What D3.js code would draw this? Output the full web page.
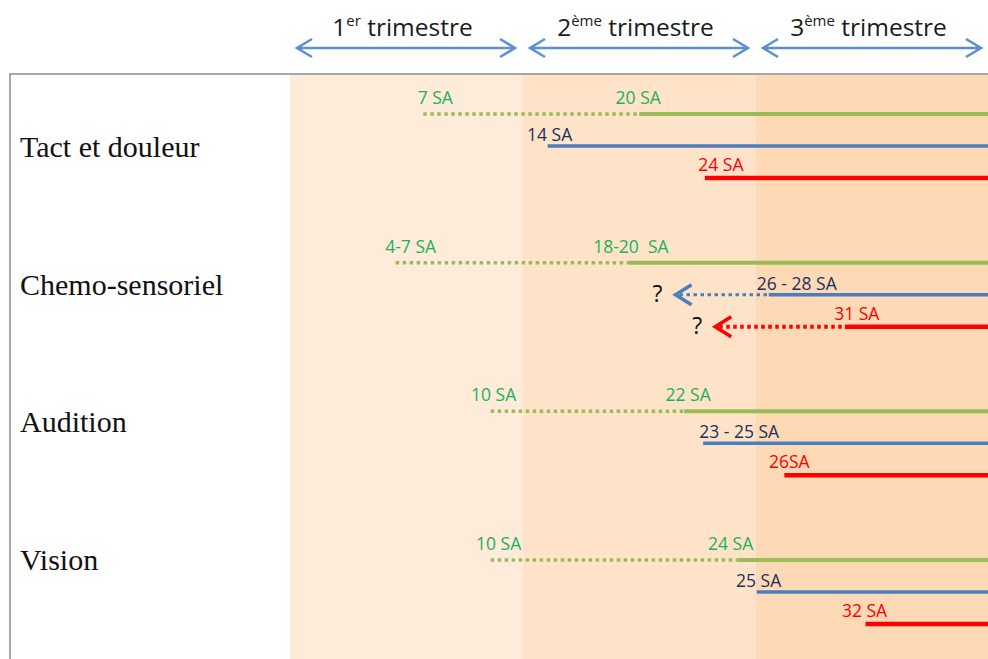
<!DOCTYPE html>
<html>
<head>
<meta charset="utf-8">
<script src="https://cdn.jsdelivr.net/npm/d3@7"></script>
<style>
  body { margin: 0; background: #fff; }
  svg { display: block; }
</style>
</head>
<body>
<div id="chart"></div>
<script>
"use strict";

// == data ==
var senses = ["Tact et douleur", "Chemo-sensoriel", "Audition", "Vision"];
var trimNum = ["1", "2", "3"];
var trimSup = ["er", "ème", "ème"];

// start of each line in SA, as drawn
var greenDotted = [6.5, 4.9, 10.4, 10.4];
var greenSolid  = [19.0, 18.4, 21.6, 24.7];
var blueSolid   = [13.7, 26.5, 22.7, 25.8];
var redSolid    = [22.8, 30.9, 27.4, 32.1];
// uncertain earlier onset (dotted arrow), only for chemo-sensoriel
var blueDotted  = [null, 21.1, null, null];
var redDotted   = [null, 23.4, null, null];

var greenDottedLbl = ["7 SA", "4-7 SA", "10 SA", "10 SA"];
var greenSolidLbl  = ["20 SA", "18-20  SA", "22 SA", "24 SA"];
var blueLbl        = ["14 SA", "26 - 28 SA", "23 - 25 SA", "25 SA"];
var redLbl         = ["24 SA", "31 SA", "26SA", "32 SA"];

// == layout ==
var W = 988, H = 659;
var GREEN = "#9bbb59", GREEN_TXT = "#1db158",
    BLUE = "#4a7ebf", BLUE_TXT = "#1f2f5e",
    RED = "#ff0000", ARROW = "#5b8fd0";
var sans = "'Open Sans', sans-serif";

var svg = d3.select("#chart").append("svg")
  .attr("width", W)
  .attr("height", H);

var x = d3.scaleLinear().domain([0, 40]).range([311, 1002]);
var tri = d3.scaleBand().domain(trimNum).range([290, 989]);
var rowY = d3.scalePoint().domain(senses).range([146, 592]);
var labelY = d3.scalePoint().domain(senses).range([157, 570]);

// == trimester shading ==
var shades = ["#feebd9", "#fee3c9", "#fdd9b6"];
svg.selectAll("rect.tri")
  .data(trimNum)
  .enter().append("rect")
  .attr("class", "tri")
  .attr("x", function (d) { return tri(d); })
  .attr("y", 75)
  .attr("width", tri.bandwidth())
  .attr("height", H - 75)
  .attr("fill", function (d, i) { return shades[i]; });

// frame
svg.append("path")
  .attr("d", "M10," + H + "V74H" + W)
  .attr("fill", "none")
  .attr("stroke", "#8a8a8a")
  .attr("stroke-width", 1.5);

// == header: trimester arrows ==
var head = svg.selectAll("g.head")
  .data(trimNum)
  .enter().append("g")
  .attr("class", "head");

head.append("path")
  .attr("d", function (d) {
    var a = tri(d) + 7, b = tri(d) + tri.bandwidth() - 8, y = 48;
    return "M" + a + "," + y + "H" + b +
      "M" + (a + 15) + "," + (y - 9) + "L" + a + "," + y + "L" + (a + 15) + "," + (y + 9) +
      "M" + (b - 15) + "," + (y - 9) + "L" + b + "," + y + "L" + (b - 15) + "," + (y + 9);
  })
  .attr("fill", "none")
  .attr("stroke", ARROW)
  .attr("stroke-width", 2.5);

var ht = head.append("text")
  .attr("x", function (d) { return tri(d) + tri.bandwidth() / 2 - 4; })
  .attr("y", 36)
  .attr("text-anchor", "middle")
  .style("font-family", sans)
  .style("font-size", "24.5px")
  .attr("fill", "#1a1a1a");
ht.append("tspan").text(function (d) { return d; });
ht.append("tspan")
  .attr("dy", -10)
  .style("font-size", "15px")
  .text(function (d, i) { return trimSup[i]; });
ht.append("tspan")
  .attr("dy", 10)
  .text(" trimestre");

// == row labels ==
svg.selectAll("text.sense")
  .data(senses)
  .enter().append("text")
  .attr("class", "sense")
  .attr("x", 20)
  .attr("y", function (d) { return labelY(d); })
  .style("font-family", "'Liberation Serif', 'Times New Roman', serif")
  .style("font-size", "30px")
  .attr("fill", "#111")
  .text(function (d) { return d; });

// == tracks ==
var tracks = [];
senses.forEach(function (s, i) {
  tracks.push({ sense: s, dy: -32, color: GREEN, txt: GREEN_TXT, w: 4,
    dotFrom: greenDotted[i], solidFrom: greenSolid[i], arrow: false,
    labels: [[greenDotted[i], greenDottedLbl[i]], [greenSolid[i], greenSolidLbl[i]]] });
  tracks.push({ sense: s, dy: 0, color: BLUE, txt: BLUE_TXT, w: 3.5,
    dotFrom: blueDotted[i], solidFrom: blueSolid[i], arrow: true,
    labels: [[blueSolid[i], blueLbl[i]]] });
  tracks.push({ sense: s, dy: 32, color: RED, txt: RED, w: 4.5,
    dotFrom: redDotted[i], solidFrom: redSolid[i], arrow: true,
    labels: [[redSolid[i], redLbl[i]]] });
});

// nudges for the labels (label centre minus line start), by track order
var labelDx = [[12, -1], [2], [16],
               [15, 2], [28], [12],
               [3, 4], [36], [5],
               [8, -7], [2], [-1]];
var labelDy = { "-32": -10, "0": -5, "32": -7 };

var tg = svg.selectAll("g.track")
  .data(tracks)
  .enter().append("g")
  .attr("class", "track")
  .attr("transform", function (d) { return "translate(0," + (rowY(d.sense) + d.dy) + ")"; });

// dotted part
tg.filter(function (d) { return d.dotFrom != null; })
  .append("line")
  .attr("x1", function (d) { return x(d.dotFrom) + (d.arrow ? 4 : 0); })
  .attr("x2", function (d) { return x(d.solidFrom); })
  .attr("stroke", function (d) { return d.color; })
  .attr("stroke-width", function (d) { return d.w - 0.5; })
  .attr("stroke-dasharray", "3.5,3.5");

// arrow heads + question marks
var arr = tg.filter(function (d) { return d.arrow && d.dotFrom != null; });
arr.append("path")
  .attr("d", function (d) {
    var t = x(d.dotFrom);
    return "M" + (t + 16) + ",-10L" + t + ",0L" + (t + 16) + ",10";
  })
  .attr("fill", "none")
  .attr("stroke", function (d) { return d.color; })
  .attr("stroke-width", 3.5);
arr.append("text")
  .attr("x", function (d) { return x(d.dotFrom) - 18; })
  .attr("y", 7)
  .attr("text-anchor", "middle")
  .style("font-family", sans)
  .style("font-size", "23px")
  .attr("fill", "#111")
  .text("?");

// solid part
tg.append("line")
  .attr("x1", function (d) { return x(d.solidFrom); })
  .attr("x2", W + 2)
  .attr("stroke", function (d) { return d.color; })
  .attr("stroke-width", function (d) { return d.w; });

// labels
tg.each(function (d, ti) {
  d3.select(this).selectAll("text.lbl")
    .data(d.labels)
    .enter().append("text")
    .attr("class", "lbl")
    .attr("x", function (l, li) { return x(l[0]) + labelDx[ti][li]; })
    .attr("y", labelDy[d.dy])
    .attr("text-anchor", "middle")
    .style("font-family", sans)
    .style("font-size", "17.5px")
    .style("white-space", "pre")
    .attr("fill", d.txt)
    .text(function (l) { return l[1]; });
});
</script>
</body>
</html>
